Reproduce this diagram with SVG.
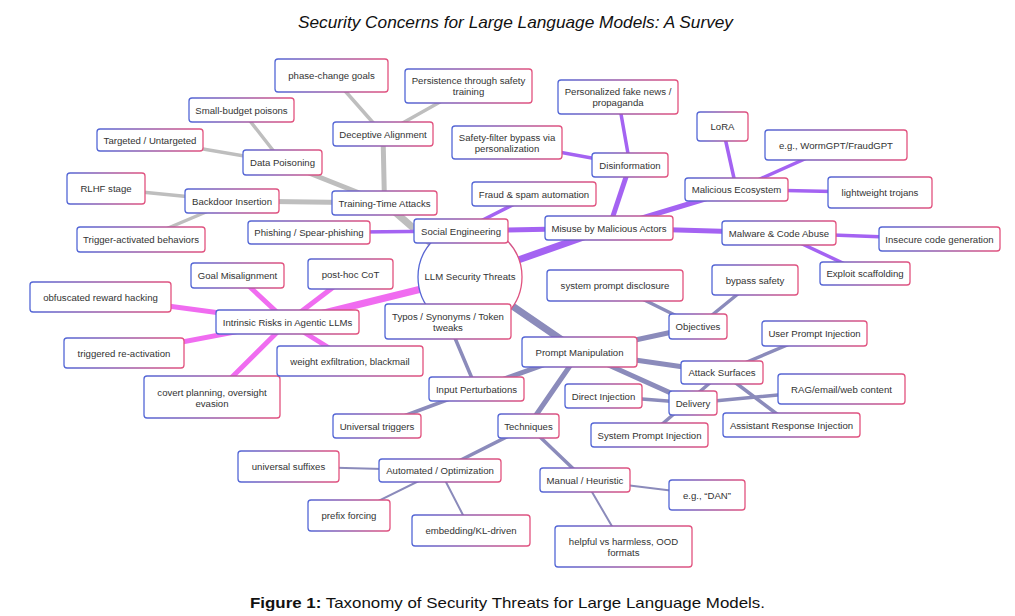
<svg xmlns="http://www.w3.org/2000/svg" width="1015" height="616" viewBox="0 0 1015 616">
<defs>
<linearGradient id="bd" x1="0" y1="0" x2="1" y2="0">
<stop offset="0" stop-color="#5266d6"/>
<stop offset="1" stop-color="#e2527e"/>
</linearGradient>
</defs>
<style>
.n rect, .n circle { fill: #ffffff; stroke: url(#bd); stroke-width: 1.3; }
.n text { font-family: "Liberation Sans", Arial, sans-serif; font-size: 9.6px; fill: #333333; text-anchor: middle; }
.e line { stroke-linecap: round; fill: none; }
.g { stroke: #bebebe; }
.p { stroke: #a463f2; }
.m { stroke: #f06cf0; }
.s { stroke: #8b8bbb; }
.d1 { stroke-width: 7; }
.d2 { stroke-width: 5; }
.d3 { stroke-width: 3.5; }
.d4 { stroke-width: 2; }
.title { font-family: "Liberation Sans", Arial, sans-serif; font-style: italic; font-size: 17px; fill: #111111; text-anchor: middle; }
.cap { font-family: "Liberation Sans", Arial, sans-serif; font-size: 15px; fill: #111111; text-anchor: middle; }
</style>
<rect x="0" y="0" width="1015" height="616" fill="#ffffff"/>
<text class="title" x="515.5" y="28" textLength="435" lengthAdjust="spacingAndGlyphs">Security Concerns for Large Language Models: A Survey</text>

<g id="connectors" class="e">
<!-- gray: training-time -->
<line class="g d1" x1="470" y1="277" x2="384.5" y2="203"/>
<line class="g d2" x1="384.5" y1="203" x2="383" y2="134"/>
<line class="g d2" x1="384.5" y1="203" x2="282.5" y2="162.5"/>
<line class="g d2" x1="384.5" y1="203" x2="232" y2="201"/>
<line class="g d3" x1="383" y1="134" x2="331.5" y2="75.5"/>
<line class="g d3" x1="383" y1="134" x2="468.5" y2="86"/>
<line class="g d3" x1="282.5" y1="162.5" x2="241.5" y2="110"/>
<line class="g d3" x1="282.5" y1="162.5" x2="150" y2="140"/>
<line class="g d3" x1="232" y1="201" x2="106" y2="188.5"/>
<line class="g d3" x1="232" y1="201" x2="141" y2="239.5"/>
<!-- purple: misuse -->
<line class="p d1" x1="470" y1="277" x2="609" y2="228"/>
<line class="p d2" x1="609" y1="228" x2="461" y2="231"/>
<line class="p d2" x1="609" y1="228" x2="630" y2="165"/>
<line class="p d2" x1="609" y1="228" x2="736.5" y2="189.5"/>
<line class="p d2" x1="609" y1="228" x2="779" y2="233"/>
<line class="p d3" x1="461" y1="231" x2="309" y2="232.5"/>
<line class="p d3" x1="461" y1="231" x2="534" y2="194"/>
<line class="p d3" x1="630" y1="165" x2="618" y2="97"/>
<line class="p d3" x1="630" y1="165" x2="507" y2="142.5"/>
<line class="p d3" x1="736.5" y1="189.5" x2="722.5" y2="126.5"/>
<line class="p d3" x1="736.5" y1="189.5" x2="836" y2="145"/>
<line class="p d3" x1="736.5" y1="189.5" x2="880" y2="192.5"/>
<line class="p d3" x1="779" y1="233" x2="939.5" y2="239"/>
<line class="p d3" x1="779" y1="233" x2="865" y2="273.5"/>
<!-- magenta: intrinsic -->
<line class="m d1" x1="470" y1="277" x2="287.5" y2="322"/>
<line class="m d2" x1="287.5" y1="322" x2="237.5" y2="275.5"/>
<line class="m d2" x1="287.5" y1="322" x2="350.5" y2="274"/>
<line class="m d2" x1="287.5" y1="322" x2="100.5" y2="297"/>
<line class="m d2" x1="287.5" y1="322" x2="124" y2="353"/>
<line class="m d2" x1="287.5" y1="322" x2="212" y2="397"/>
<line class="m d2" x1="287.5" y1="322" x2="350" y2="361"/>
<!-- slate: prompt manipulation -->
<line class="s d1" x1="470" y1="277" x2="579.5" y2="352"/>
<line class="s d2" x1="579.5" y1="352" x2="698" y2="326.5"/>
<line class="s d2" x1="579.5" y1="352" x2="722" y2="372.5"/>
<line class="s d2" x1="579.5" y1="352" x2="693" y2="403"/>
<line class="s d2" x1="579.5" y1="352" x2="476.5" y2="389"/>
<line class="s d2" x1="579.5" y1="352" x2="528.5" y2="426"/>
<line class="s d3" x1="698" y1="326.5" x2="615" y2="285.5"/>
<line class="s d3" x1="698" y1="326.5" x2="755" y2="280"/>
<line class="s d3" x1="722" y1="372.5" x2="814.5" y2="333.5"/>
<line class="s d3" x1="722" y1="372.5" x2="791.5" y2="425"/>
<line class="s d3" x1="722" y1="372.5" x2="649.5" y2="435"/>
<line class="s d3" x1="693" y1="403" x2="603.5" y2="396"/>
<line class="s d3" x1="693" y1="403" x2="841.5" y2="389"/>
<line class="s d3" x1="476.5" y1="389" x2="448" y2="321.5"/>
<line class="s d3" x1="476.5" y1="389" x2="377" y2="426"/>
<line class="s d3" x1="528.5" y1="426" x2="440" y2="470.5"/>
<line class="s d3" x1="528.5" y1="426" x2="585" y2="480"/>
<line class="s d4" x1="440" y1="470.5" x2="288.5" y2="466.5"/>
<line class="s d4" x1="440" y1="470.5" x2="349" y2="515.5"/>
<line class="s d4" x1="440" y1="470.5" x2="471" y2="530.5"/>
<line class="s d4" x1="585" y1="480" x2="707" y2="495"/>
<line class="s d4" x1="585" y1="480" x2="623.5" y2="546"/>
</g>

<g id="root" class="n"><circle cx="470" cy="277" r="52"/><text x="470" y="280">LLM Security Threats</text></g>

<g id="tta" class="n"><rect x="332" y="191" width="105" height="24" rx="3"/><text x="384.5" y="206.5">Training-Time Attacks</text></g>
<g id="da" class="n"><rect x="333" y="122" width="100" height="24" rx="3"/><text x="383" y="137.5">Deceptive Alignment</text></g>
<g id="pcg" class="n"><rect x="275" y="59" width="113" height="33" rx="3"/><text x="331.5" y="79">phase-change goals</text></g>
<g id="pst" class="n"><rect x="405" y="69" width="127" height="34" rx="3"/><text x="468.5" y="84"><tspan x="468.5">Persistence through safety</tspan><tspan x="468.5" dy="11">training</tspan></text></g>
<g id="dp" class="n"><rect x="243" y="150" width="79" height="25" rx="3"/><text x="282.5" y="166">Data Poisoning</text></g>
<g id="sbp" class="n"><rect x="189" y="98" width="105" height="24" rx="3"/><text x="241.5" y="113.5">Small-budget poisons</text></g>
<g id="tu" class="n"><rect x="97" y="129" width="106" height="22" rx="3"/><text x="150" y="143.5">Targeted / Untargeted</text></g>
<g id="bi" class="n"><rect x="185" y="189" width="94" height="24" rx="3"/><text x="232" y="204.5">Backdoor Insertion</text></g>
<g id="rlhf" class="n"><rect x="67" y="173" width="78" height="31" rx="3"/><text x="106" y="192">RLHF stage</text></g>
<g id="tab" class="n"><rect x="77" y="227" width="128" height="25" rx="3"/><text x="141" y="243">Trigger-activated behaviors</text></g>

<g id="mma" class="n"><rect x="545" y="216" width="128" height="24" rx="3"/><text x="609" y="231.5">Misuse by Malicious Actors</text></g>
<g id="se" class="n"><rect x="414" y="219" width="94" height="24" rx="3"/><text x="461" y="234.5">Social Engineering</text></g>
<g id="psp" class="n"><rect x="248" y="221" width="122" height="23" rx="3"/><text x="309" y="236">Phishing / Spear-phishing</text></g>
<g id="fsa" class="n"><rect x="472" y="182" width="124" height="24" rx="3"/><text x="534" y="197.5">Fraud &amp; spam automation</text></g>
<g id="dis" class="n"><rect x="592" y="153" width="76" height="24" rx="3"/><text x="630" y="168.5">Disinformation</text></g>
<g id="pfn" class="n"><rect x="558" y="80" width="120" height="34" rx="3"/><text x="618" y="95"><tspan x="618">Personalized fake news /</tspan><tspan x="618" dy="11">propaganda</tspan></text></g>
<g id="sfb" class="n"><rect x="452" y="126" width="110" height="33" rx="3"/><text x="507" y="140.5"><tspan x="507">Safety-filter bypass via</tspan><tspan x="507" dy="11">personalization</tspan></text></g>
<g id="me" class="n"><rect x="685" y="178" width="103" height="23" rx="3"/><text x="736.5" y="193">Malicious Ecosystem</text></g>
<g id="lora" class="n"><rect x="697" y="112" width="51" height="29" rx="3"/><text x="722.5" y="130">LoRA</text></g>
<g id="wg" class="n"><rect x="765" y="130" width="142" height="30" rx="3"/><text x="836" y="148.5">e.g., WormGPT/FraudGPT</text></g>
<g id="lt" class="n"><rect x="828" y="177" width="104" height="31" rx="3"/><text x="880" y="196">lightweight trojans</text></g>
<g id="mca" class="n"><rect x="722" y="221" width="114" height="24" rx="3"/><text x="779" y="236.5">Malware &amp; Code Abuse</text></g>
<g id="icg" class="n"><rect x="879" y="227" width="121" height="24" rx="3"/><text x="939.5" y="242.5">Insecure code generation</text></g>
<g id="es" class="n"><rect x="820" y="262" width="90" height="23" rx="3"/><text x="865" y="277">Exploit scaffolding</text></g>

<g id="ira" class="n"><rect x="216" y="310" width="143" height="24" rx="3"/><text x="287.5" y="325.5">Intrinsic Risks in Agentic LLMs</text></g>
<g id="gm" class="n"><rect x="191" y="263" width="93" height="25" rx="3"/><text x="237.5" y="279">Goal Misalignment</text></g>
<g id="phc" class="n"><rect x="308" y="259" width="85" height="30" rx="3"/><text x="350.5" y="277.5">post-hoc CoT</text></g>
<g id="orh" class="n"><rect x="30" y="282" width="141" height="30" rx="3"/><text x="100.5" y="300.5">obfuscated reward hacking</text></g>
<g id="tra" class="n"><rect x="64" y="338" width="120" height="30" rx="3"/><text x="124" y="356.5">triggered re-activation</text></g>
<g id="cpo" class="n"><rect x="144" y="376" width="136" height="42" rx="3"/><text x="212" y="396"><tspan x="212">covert planning, oversight</tspan><tspan x="212" dy="11">evasion</tspan></text></g>
<g id="wfb" class="n"><rect x="277" y="346" width="146" height="30" rx="3"/><text x="350" y="364.5">weight exfiltration, blackmail</text></g>

<g id="pm" class="n"><rect x="522" y="337" width="115" height="30" rx="3"/><text x="579.5" y="355.5">Prompt Manipulation</text></g>
<g id="obj" class="n"><rect x="669" y="314" width="58" height="25" rx="3"/><text x="698" y="330">Objectives</text></g>
<g id="spd" class="n"><rect x="547" y="270" width="136" height="31" rx="3"/><text x="615" y="289">system prompt disclosure</text></g>
<g id="bs" class="n"><rect x="712" y="265" width="86" height="30" rx="3"/><text x="755" y="283.5">bypass safety</text></g>
<g id="as" class="n"><rect x="681" y="361" width="82" height="23" rx="3"/><text x="722" y="376">Attack Surfaces</text></g>
<g id="upi" class="n"><rect x="762" y="321" width="105" height="25" rx="3"/><text x="814.5" y="337">User Prompt Injection</text></g>
<g id="ari" class="n"><rect x="723" y="413" width="137" height="24" rx="3"/><text x="791.5" y="428.5">Assistant Response Injection</text></g>
<g id="spi" class="n"><rect x="591" y="423" width="117" height="24" rx="3"/><text x="649.5" y="438.5">System Prompt Injection</text></g>
<g id="di" class="n"><rect x="565" y="384" width="77" height="24" rx="3"/><text x="603.5" y="399.5">Direct Injection</text></g>
<g id="del" class="n"><rect x="669" y="391" width="48" height="24" rx="3"/><text x="693" y="406.5">Delivery</text></g>
<g id="rag" class="n"><rect x="778" y="374" width="127" height="30" rx="3"/><text x="841.5" y="392.5">RAG/email/web content</text></g>
<g id="ip" class="n"><rect x="429" y="377" width="95" height="24" rx="3"/><text x="476.5" y="392.5">Input Perturbations</text></g>
<g id="typ" class="n"><rect x="385" y="304" width="126" height="35" rx="3"/><text x="448" y="320"><tspan x="448">Typos / Synonyms / Token</tspan><tspan x="448" dy="11">tweaks</tspan></text></g>
<g id="ut" class="n"><rect x="333" y="414" width="88" height="24" rx="3"/><text x="377" y="429.5">Universal triggers</text></g>
<g id="tech" class="n"><rect x="498" y="414" width="61" height="24" rx="3"/><text x="528.5" y="429.5">Techniques</text></g>
<g id="ao" class="n"><rect x="379" y="459" width="122" height="23" rx="3"/><text x="440" y="474">Automated / Optimization</text></g>
<g id="us" class="n"><rect x="238" y="451" width="101" height="31" rx="3"/><text x="288.5" y="470">universal suffixes</text></g>
<g id="pf" class="n"><rect x="308" y="500" width="82" height="31" rx="3"/><text x="349" y="519">prefix forcing</text></g>
<g id="ekl" class="n"><rect x="412" y="515" width="118" height="31" rx="3"/><text x="471" y="534">embedding/KL-driven</text></g>
<g id="mh" class="n"><rect x="540" y="468" width="90" height="24" rx="3"/><text x="585" y="483.5">Manual / Heuristic</text></g>
<g id="dan" class="n"><rect x="669" y="480" width="76" height="30" rx="3"/><text x="707" y="498.5">e.g., “DAN”</text></g>
<g id="hvh" class="n"><rect x="555" y="526" width="137" height="41" rx="3"/><text x="623.5" y="545"><tspan x="623.5">helpful vs harmless, OOD</tspan><tspan x="623.5" dy="11">formats</tspan></text></g>

<text class="cap" x="507.5" y="608" textLength="515" lengthAdjust="spacingAndGlyphs"><tspan font-weight="bold">Figure 1:</tspan> Taxonomy of Security Threats for Large Language Models.</text>
</svg>
